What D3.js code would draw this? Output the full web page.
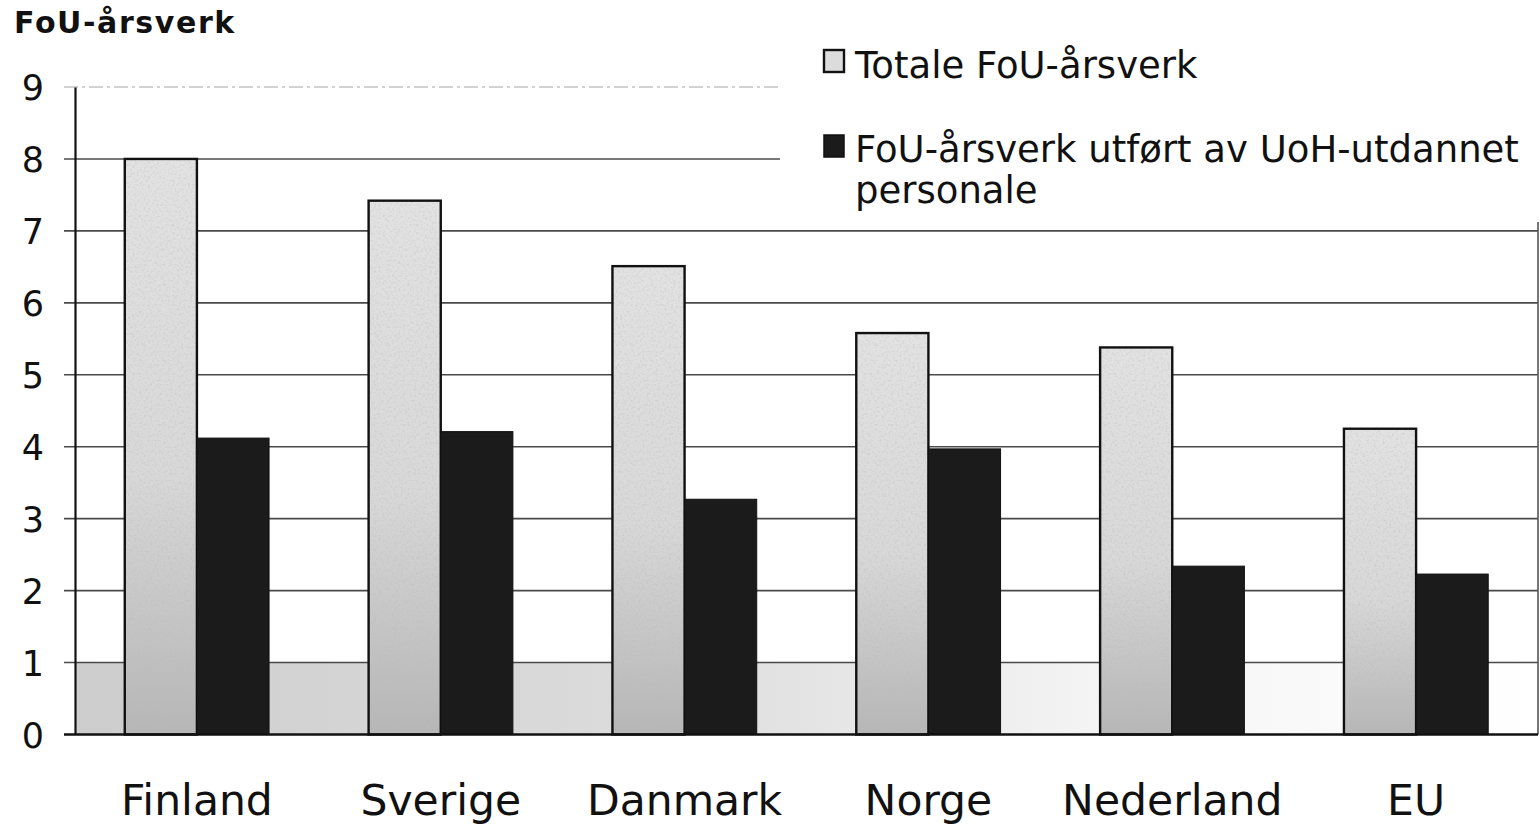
<!DOCTYPE html>
<html>
<head>
<meta charset="utf-8">
<script src="https://cdn.jsdelivr.net/npm/d3@7"></script>
<style>
  html, body { margin: 0; padding: 0; background: #fff; }
  svg { display: block; }
  text { font-family: "DejaVu Sans", Verdana, sans-serif; fill: #111; }
</style>
</head>
<body>
<svg id="chart" width="1540" height="830"></svg>
<script>
// FoU-årsverk per land
const categories = ["Finland", "Sverige", "Danmark", "Norge", "Nederland", "EU"];
const seriesNames = ["Totale FoU-årsverk", "FoU-årsverk utført av UoH-utdannet personale"];
const totalValues = [8.0, 7.42, 6.51, 5.58, 5.38, 4.25];
const uohValues = [4.12, 4.21, 3.27, 3.97, 2.34, 2.23];
const yTicks = [0, 1, 2, 3, 4, 5, 6, 7, 8, 9];
const yTitle = "FoU-årsverk";

const svg = d3.select("#chart");
const plotLeft = 75, plotRight = 1538, plotTop = 87, plotBottom = 734.5;

const x0 = d3.scaleBand().domain(categories).range([plotLeft, plotRight]).padding(0);
const x1 = d3.scaleBand().domain([0, 1]).range([0, x0.bandwidth()]).paddingInner(0).paddingOuter(0.69);
const y = d3.scaleLinear().domain([0, 9]).range([plotBottom, plotTop]);

const defs = svg.append("defs");
const lg = defs.append("linearGradient").attr("id", "lightFill").attr("x1", 0).attr("y1", 0).attr("x2", 0).attr("y2", 1);
lg.append("stop").attr("offset", "0%").attr("stop-color", "#e2e2e2");
lg.append("stop").attr("offset", "55%").attr("stop-color", "#d8d8d8");
lg.append("stop").attr("offset", "100%").attr("stop-color", "#b6b6b6");

const band = defs.append("linearGradient").attr("id", "bandFill").attr("x1", 0).attr("y1", 0).attr("x2", 1).attr("y2", 0);
band.append("stop").attr("offset", "0%").attr("stop-color", "#cdcdcd");
band.append("stop").attr("offset", "40%").attr("stop-color", "#dcdcdc");
band.append("stop").attr("offset", "70%").attr("stop-color", "#f4f4f4");
band.append("stop").attr("offset", "100%").attr("stop-color", "#ffffff");

// speckle texture for the light bars
const grain = defs.append("filter").attr("id", "grain").attr("x", 0).attr("y", 0).attr("width", 1).attr("height", 1);
grain.append("feTurbulence").attr("type", "fractalNoise").attr("baseFrequency", 0.45).attr("numOctaves", 2).attr("seed", 3).attr("result", "noise");
grain.append("feColorMatrix").attr("in", "noise").attr("type", "matrix")
  .attr("values", "0 0 0 0 0.5  0 0 0 0 0.5  0 0 0 0 0.5  0 0 0 1.2 -0.58").attr("result", "spk");
grain.append("feComposite").attr("in", "spk").attr("in2", "SourceGraphic").attr("operator", "in").attr("result", "spk2");
grain.append("feMerge").call(m => { m.append("feMergeNode").attr("in", "SourceGraphic"); m.append("feMergeNode").attr("in", "spk2"); });

// shaded lower band of the plot area
svg.append("rect")
  .attr("x", plotLeft).attr("y", y(1)).attr("width", plotRight - plotLeft).attr("height", y(0) - y(1))
  .attr("fill", "url(#bandFill)");

// gridlines
svg.append("g").selectAll("line").data(yTicks.filter(d => d > 0)).join("line")
  .attr("x1", plotLeft - 11).attr("x2", plotRight)
  .attr("y1", d => y(d)).attr("y2", d => y(d))
  .attr("stroke", d => d === 9 ? "#c4c4c4" : "#4a4a4a")
  .attr("stroke-width", d => d === 9 ? 1.5 : 1.6)
  .attr("stroke-dasharray", d => d === 9 ? "14 4 3 4" : null);

// right border of the plot area
svg.append("line").attr("x1", plotRight).attr("x2", plotRight).attr("y1", y(9)).attr("y2", plotBottom)
  .attr("stroke", "#555").attr("stroke-width", 1.6);

// bars
const groups = svg.append("g").selectAll("g").data(categories).join("g")
  .attr("transform", d => `translate(${x0(d)},0)`);

groups.append("rect")
  .attr("x", x1(0)).attr("width", x1.bandwidth())
  .attr("y", (d, i) => y(totalValues[i]))
  .attr("height", (d, i) => y(0) - y(totalValues[i]))
  .attr("fill", "url(#lightFill)").attr("filter", "url(#grain)");
groups.append("rect")
  .attr("x", x1(0)).attr("width", x1.bandwidth())
  .attr("y", (d, i) => y(totalValues[i]))
  .attr("height", (d, i) => y(0) - y(totalValues[i]))
  .attr("fill", "none").attr("stroke", "#111").attr("stroke-width", 2.4);

groups.append("rect")
  .attr("x", x1(1)).attr("width", x1.bandwidth())
  .attr("y", (d, i) => y(uohValues[i]))
  .attr("height", (d, i) => y(0) - y(uohValues[i]))
  .attr("fill", "#1b1b1b").attr("stroke", "#111").attr("stroke-width", 1);

// axes
const yAxis = d3.axisLeft(y).tickValues(yTicks).tickSize(0).tickPadding(31).tickFormat(d3.format("d"));
const gy = svg.append("g").attr("transform", `translate(${plotLeft},0)`).call(yAxis);
gy.select(".domain").attr("stroke", "#111").attr("stroke-width", 2.2);
gy.selectAll("text").attr("font-size", 35).attr("fill", "#111").attr("dy", "0.36em")
  .attr("font-family", "'DejaVu Sans', Verdana, sans-serif");

const xAxis = d3.axisBottom(x0).tickSize(0).tickPadding(50);
const gx = svg.append("g").attr("transform", `translate(0,${plotBottom})`).call(xAxis);
gx.select(".domain").attr("d", `M${plotLeft - 11},0H${plotRight}`).attr("stroke", "#111").attr("stroke-width", 2.4);
gx.selectAll("text").attr("font-size", 42.5).attr("fill", "#111")
  .attr("font-family", "'DejaVu Sans', Verdana, sans-serif");

// y title
svg.append("text").attr("x", 14).attr("y", 33)
  .attr("font-size", 30).attr("font-weight", "bold").attr("letter-spacing", 1.6).text(yTitle);

// legend
const legend = svg.append("g");
legend.append("rect").attr("x", 780).attr("y", 0).attr("width", 760).attr("height", 222).attr("fill", "#fff");
legend.append("rect").attr("x", 824).attr("y", 50).attr("width", 20).attr("height", 22)
  .attr("fill", "#dcdcdc").attr("stroke", "#111").attr("stroke-width", 2.4);
legend.append("rect").attr("x", 824).attr("y", 135).attr("width", 20).attr("height", 22)
  .attr("fill", "#1b1b1b").attr("stroke", "#111").attr("stroke-width", 1.5);
legend.append("text").attr("x", 855).attr("y", 78).attr("font-size", 37).text(seriesNames[0]);
const t2 = legend.append("text").attr("x", 855).attr("y", 162).attr("font-size", 37);
t2.append("tspan").attr("x", 855).text("FoU-årsverk utført av UoH-utdannet");
t2.append("tspan").attr("x", 855).attr("dy", 41).text("personale");
</script>
</body>
</html>
